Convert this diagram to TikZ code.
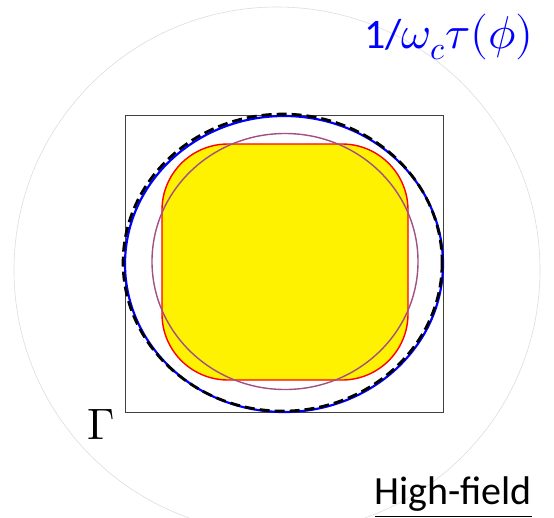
\documentclass[tikz,border=0pt]{standalone}
\usepackage{fontspec}
\usepackage{unicode-math}
\setmathfont{Latin Modern Math}
\newfontfamily\labelfont{Carlito}
\tikzset{
  bgcircle/.style={draw=black!13, line width=0.6pt},
  frame/.style={draw=black!75, line width=0.8pt},
  fermi/.style={fill=yellow, draw=red, line width=1.4pt, rounded corners=66pt},
  mauve/.style={draw={rgb,255:red,160;green,80;blue,130}, line width=1.4pt},
  bluering/.style={draw=blue, line width=2.2pt},
  blackdash/.style={draw=black, line width=2.8pt, dash pattern=on 10pt off 5pt},
  lbl/.style={inner sep=0pt, outer sep=0pt}
}
\begin{document}
\begin{tikzpicture}[x=1pt,y=-1pt]
\useasboundingbox (0,0) rectangle (554,517);
\fill[white] (0,0) rectangle (554,517);
% faint background circle
\draw[bgcircle] (277,270) circle[radius=263];
% frame
\draw[frame] (125,115) rectangle (443,412);
% yellow rounded square
\path[fermi] (162,144) rectangle (408,380);
% mauve circle
\draw[mauve] (285,261.5) ellipse[x radius=133, y radius=128];
% blue circle and dashed overlay
\draw[bluering] (284,264) ellipse[x radius=159, y radius=148];
\draw[blackdash] (282.6,262.6) ellipse[x radius=159.5, y radius=148.5];
% labels
\node[lbl, anchor=base west, text=blue] (tau) at (364,48)
  {\fontsize{42}{44}\selectfont\labelfont 1/{\fontsize{46}{48}\selectfont$\omega_c\tau(\phi)$}};
\node[lbl, anchor=base west] (gamma) at (87,439)
  {\fontsize{44}{46}\selectfont$\Gamma$};
\node[lbl, anchor=base east] (hf) at (532,504)
  {\fontsize{40}{42}\selectfont\labelfont\underline{High-field}};
\end{tikzpicture}
\end{document}
